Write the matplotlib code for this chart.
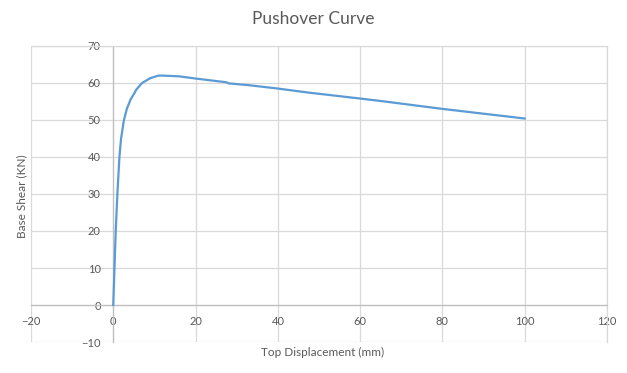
"""Pushover curve: base shear vs top displacement."""

import matplotlib

matplotlib.use("Agg")

import matplotlib.pyplot as plt

# values
DISPLACEMENT_MM = [0, 0.3, 0.6, 1.0, 1.5, 1.9, 2.6, 3.3, 4.2, 5.0, 5.6, 7.0, 9.0,
                   11.0, 12.0, 16.0, 20.0, 27.5, 28.0, 33.0, 40.0, 47.5, 60.0,
                   66.0, 80.0, 100.0]
BASE_SHEAR_KN = [0, 10, 20, 30, 40, 45, 50, 53, 55.5, 57, 58.2, 60, 61.3,
                 62, 62, 61.8, 61.2, 60.2, 59.9, 59.4, 58.5, 57.4, 55.8,
                 55.0, 53.0, 50.4]
X_TICKS = [-20, 0, 20, 40, 60, 80, 100, 120]
Y_TICKS = [-10, 0, 10, 20, 30, 40, 50, 60, 70]

TEXT = "#595959"
GRID = "#d9d9d9"
AXIS = "#bfbfbf"

plt.rcParams["font.family"] = ["Lato", "DejaVu Sans"]

fig = plt.figure(figsize=(6.27, 3.73), dpi=100)
ax = fig.add_axes([0.0494, 0.0831, 0.9186, 0.7936])

ax.plot(DISPLACEMENT_MM, BASE_SHEAR_KN, color="#5b9bd5", lw=1.6, zorder=3)

ax.set_xlim(-20, 120)
ax.set_ylim(-10, 70)
ax.set_xticks(X_TICKS)
ax.set_yticks(Y_TICKS)
ax.grid(True, color=GRID, lw=0.9)
ax.set_axisbelow(True)

ax.spines["left"].set_position(("data", 0))
ax.spines["bottom"].set_position(("data", 0))
for side in ("left", "bottom"):
    ax.spines[side].set_color(AXIS)
    ax.spines[side].set_linewidth(0.9)
for side in ("top", "right"):
    ax.spines[side].set_color(GRID)
    ax.spines[side].set_linewidth(0.9)

ax.tick_params(axis="both", length=0, labelsize=8, labelcolor=TEXT)
ax.tick_params(axis="x", pad=8)
ax.tick_params(axis="y", pad=9)

fig.text(0.5, 0.949, "Pushover Curve", ha="center", va="center",
         fontsize=12.5, color=TEXT)
fig.text(0.514, 0.054, "Top Displacement (mm)", ha="center", va="center",
         fontsize=8.5, color=TEXT)
fig.text(0.035, 0.475, "Base Shear (KN)", ha="center", va="center",
         rotation=90, fontsize=8.5, color=TEXT)

fig.savefig("out.png", dpi=100)
plt.close(fig)
